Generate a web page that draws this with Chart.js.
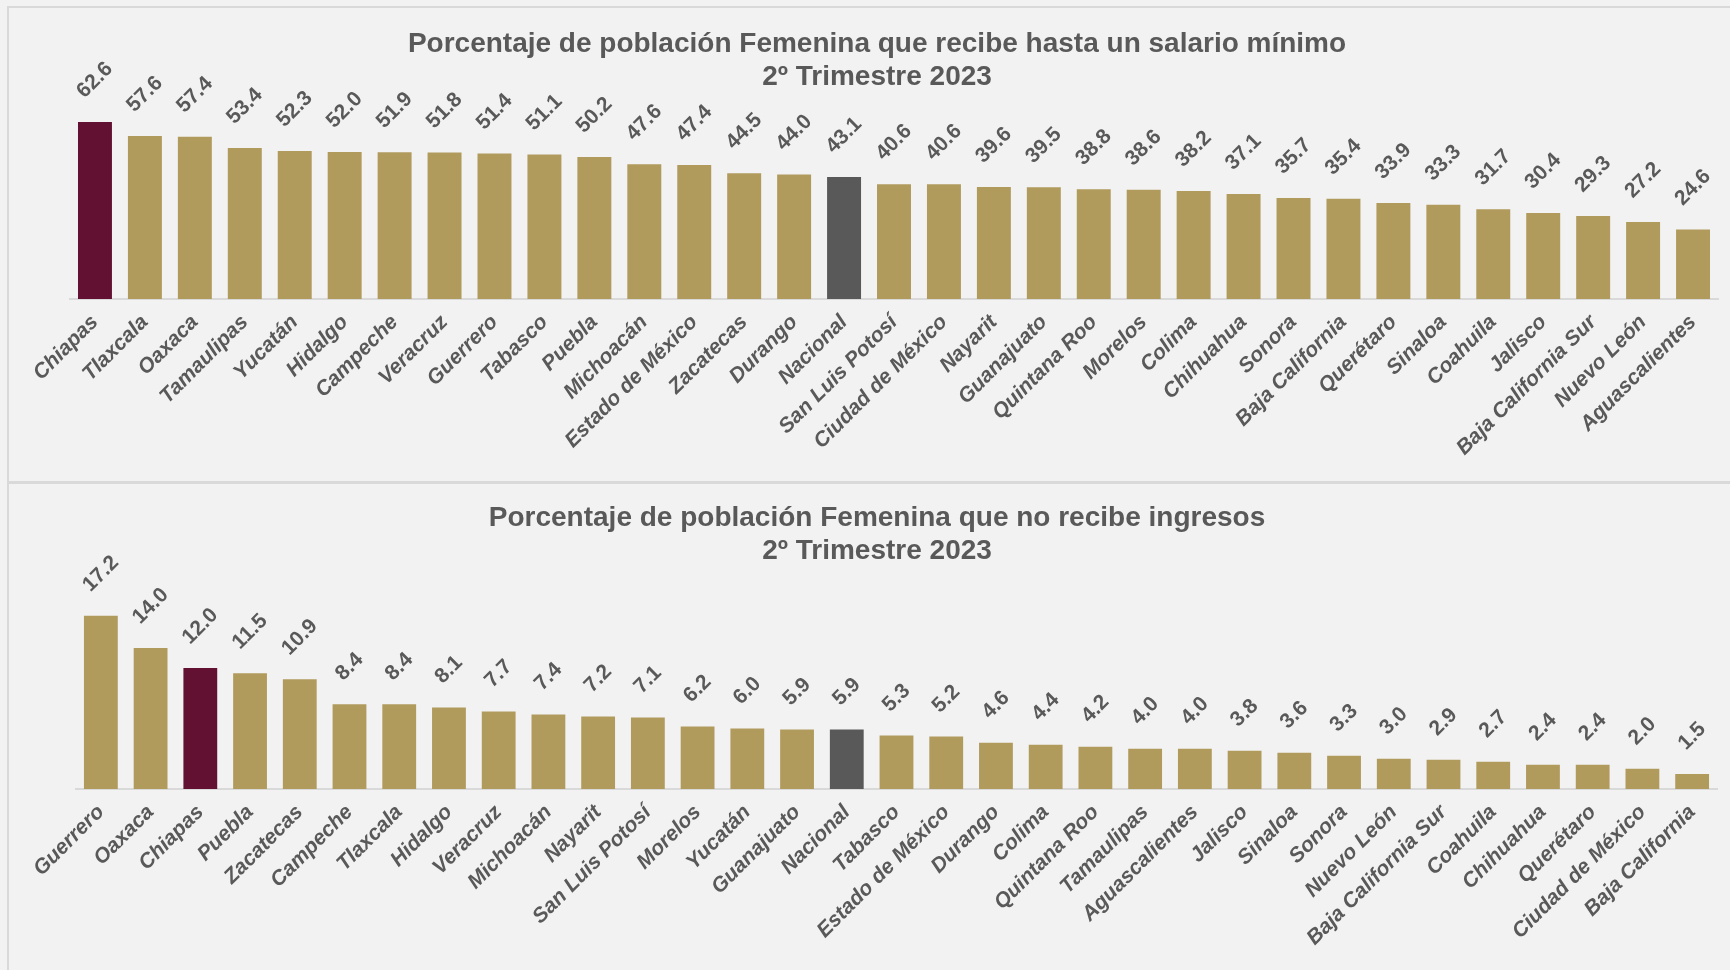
<!DOCTYPE html>
<html>
<head>
<meta charset="utf-8">
<script src="https://cdn.jsdelivr.net/npm/chart.js@4"></script>
<style>
  body { margin: 0; background: #f2f2f2; width: 1730px; height: 970px; overflow: hidden; position: relative; }
  .frame { position: absolute; left: 7px; top: 6px; width: 1740px; height: 980px; border-top: 2px solid #d9d9d9; border-left: 2px solid #d9d9d9; }
  .sep { position: absolute; left: 7px; top: 481px; width: 1740px; height: 3px; background: #d9d9d9; }
  canvas { position: absolute; left: 9px; }
  #salario { top: 9px; }
  #ingresos { top: 484px; }
</style>
</head>
<body>
<div class="frame"></div>
<div class="sep"></div>
<canvas id="salario" width="1715" height="471"></canvas>
<canvas id="ingresos" width="1714" height="486"></canvas>
<script>
// Porcentaje que recibe hasta un salario mínimo
var estadosSalario = ['Chiapas', 'Tlaxcala', 'Oaxaca', 'Tamaulipas', 'Yucatán', 'Hidalgo', 'Campeche', 'Veracruz',
  'Guerrero', 'Tabasco', 'Puebla', 'Michoacán', 'Estado de México', 'Zacatecas', 'Durango', 'Nacional',
  'San Luis Potosí', 'Ciudad de México', 'Nayarit', 'Guanajuato', 'Quintana Roo', 'Morelos', 'Colima',
  'Chihuahua', 'Sonora', 'Baja California', 'Querétaro', 'Sinaloa', 'Coahuila', 'Jalisco',
  'Baja California Sur', 'Nuevo León', 'Aguascalientes'];
var valoresSalario = [62.6, 57.6, 57.4, 53.4, 52.3, 52.0, 51.9, 51.8, 51.4, 51.1, 50.2, 47.6, 47.4, 44.5, 44.0, 43.1,
  40.6, 40.6, 39.6, 39.5, 38.8, 38.6, 38.2, 37.1, 35.7, 35.4, 33.9, 33.3, 31.7, 30.4, 29.3, 27.2, 24.6];

// Porcentaje que no recibe ingresos
var estadosIngresos = ['Guerrero', 'Oaxaca', 'Chiapas', 'Puebla', 'Zacatecas', 'Campeche', 'Tlaxcala', 'Hidalgo',
  'Veracruz', 'Michoacán', 'Nayarit', 'San Luis Potosí', 'Morelos', 'Yucatán', 'Guanajuato', 'Nacional',
  'Tabasco', 'Estado de México', 'Durango', 'Colima', 'Quintana Roo', 'Tamaulipas', 'Aguascalientes',
  'Jalisco', 'Sinaloa', 'Sonora', 'Nuevo León', 'Baja California Sur', 'Coahuila', 'Chihuahua',
  'Querétaro', 'Ciudad de México', 'Baja California'];
var valoresIngresos = [17.2, 14.0, 12.0, 11.5, 10.9, 8.4, 8.4, 8.1, 7.7, 7.4, 7.2, 7.1, 6.2, 6.0, 5.9, 5.9,
  5.3, 5.2, 4.6, 4.4, 4.2, 4.0, 4.0, 3.8, 3.6, 3.3, 3.0, 2.9, 2.7, 2.4, 2.4, 2.0, 1.5];

var FONT = '"Liberation Sans", Arial, sans-serif';
var GRIS = '#595959';

function colores(labels) {
  return labels.map(function (l) {
    if (l === 'Chiapas') return '#621132';
    if (l === 'Nacional') return '#595959';
    return '#b09a5c';
  });
}

// etiquetas de valor giradas 45 grados encima de cada barra
var valueLabels = {
  id: 'valueLabels',
  afterDatasetsDraw: function (chart) {
    var ctx = chart.ctx;
    var meta = chart.getDatasetMeta(0);
    var vals = chart.data.datasets[0].data;
    ctx.save();
    ctx.font = 'bold 21px ' + FONT;
    ctx.fillStyle = GRIS;
    ctx.textAlign = 'center';
    ctx.textBaseline = 'middle';
    meta.data.forEach(function (bar, i) {
      var txt = vals[i].toFixed(1);
      var w = ctx.measureText(txt).width;
      var half = (w + 15) / (2 * Math.SQRT2);
      ctx.save();
      ctx.translate(bar.x, bar.y - 22 - half);
      ctx.rotate(-Math.PI / 4);
      ctx.fillText(txt, 0, 0);
      ctx.restore();
    });
    ctx.restore();
  }
};

function makeChart(id, labels, values, title, yMax, padLeft, yWidth, titlePad) {
  var ctx = document.getElementById(id).getContext('2d');
  return new Chart(ctx, {
    type: 'bar',
    data: {
      labels: labels,
      datasets: [{
        data: values,
        backgroundColor: colores(labels),
        borderWidth: 0,
        categoryPercentage: 1,
        barPercentage: 0.68
      }]
    },
    options: {
      responsive: false,
      animation: false,
      devicePixelRatio: 1,
      layout: { padding: { left: padLeft, right: 6, top: 0, bottom: 0 } },
      plugins: {
        legend: { display: false },
        tooltip: { enabled: false },
        title: {
          display: true,
          text: title,
          color: GRIS,
          font: { family: FONT, size: 28, weight: 'bold', lineHeight: 33 / 28 },
          padding: titlePad
        }
      },
      scales: {
        x: {
          grid: { display: false, drawTicks: false },
          border: { display: true, color: '#d9d9d9', width: 2 },
          ticks: {
            autoSkip: false,
            maxRotation: 45,
            minRotation: 45,
            padding: 11,
            color: GRIS,
            font: { family: FONT, size: 21, weight: 'bold', style: 'italic' }
          },
          afterFit: function (scale) { scale.height = 181; }
        },
        y: {
          min: 0,
          max: yMax,
          grid: { display: false },
          border: { display: false },
          ticks: { display: false },
          afterFit: function (scale) { scale.width = yWidth; }
        }
      }
    },
    plugins: [valueLabels]
  });
}

makeChart('salario', estadosSalario, valoresSalario,
  ['Porcentaje de población Femenina que recibe hasta un salario mínimo', '2º Trimestre 2023'],
  70, 27, 34, { top: 18.5, bottom: 7.5 });

makeChart('ingresos', estadosIngresos, valoresIngresos,
  ['Porcentaje de población Femenina que no recibe ingresos', '2º Trimestre 2023'],
  20, 28, 39, { top: 17.5, bottom: 20 });
</script>
</body>
</html>
